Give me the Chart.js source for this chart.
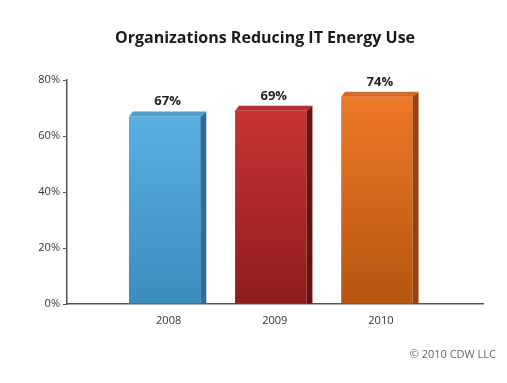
<!DOCTYPE html>
<html lang="en">
<head>
    <meta charset="UTF-8">
    <title>Organizations Reducing IT Energy Use</title>
    <script src="https://cdn.jsdelivr.net/npm/chart.js"></script>
    <style>
        html, body { margin: 0; padding: 0; background: #fff; }
        #wrap { width: 507px; height: 383px; }
    </style>
</head>
<body>
<div id="wrap"><canvas id="energyChart" width="507" height="383"></canvas></div>
<script>
    // data
    const years = ['2008', '2009', '2010'];
    const yearPos = [1, 2, 3];
    const shares = [67, 69, 74];
    const topColors = ['#5db6e8', '#d23636', '#f27b2a'];
    const bottomColors = ['#3b8dbd', '#8f1d1d', '#b6560f'];
    const sideColors = ['#2f6e94', '#6b1111', '#94440c'];

    const FONT = '"Open Sans", "DejaVu Sans", sans-serif';

    // front face gets a vertical gradient
    function frontFill(context) {
        const chart = context.chart;
        const area = chart.chartArea;
        if (!area) return topColors[context.dataIndex];
        const g = chart.ctx.createLinearGradient(0, area.top, 0, area.bottom);
        g.addColorStop(0, topColors[context.dataIndex]);
        g.addColorStop(1, bottomColors[context.dataIndex]);
        return g;
    }

    // draws the top/side faces, value labels, title and footer
    const extras = {
        id: 'extras',
        afterDatasetsDraw(chart) {
            const ctx = chart.ctx;
            const meta = chart.getDatasetMeta(0);
            const dx = 6, dy = 5;
            meta.data.forEach(function(bar, i) {
                const left = bar.x - bar.width / 2;
                const right = bar.x + bar.width / 2;
                const top = bar.y;
                const base = bar.base;
                ctx.save();
                // side
                ctx.fillStyle = sideColors[i];
                ctx.beginPath();
                ctx.moveTo(right, top);
                ctx.lineTo(right + dx, top - dy);
                ctx.lineTo(right + dx, base);
                ctx.lineTo(right, base);
                ctx.closePath();
                ctx.fill();
                // top
                ctx.fillStyle = topColors[i];
                ctx.beginPath();
                ctx.moveTo(left, top);
                ctx.lineTo(left + dx / 2 + 1, top - dy);
                ctx.lineTo(right + dx, top - dy);
                ctx.lineTo(right, top);
                ctx.closePath();
                ctx.fill();
                ctx.fillStyle = 'rgba(0,0,0,0.12)';
                ctx.fill();
                // value label
                ctx.fillStyle = '#222';
                ctx.font = 'bold 13px ' + FONT;
                ctx.textAlign = 'center';
                ctx.textBaseline = 'middle';
                ctx.fillText(shares[i] + '%', bar.x + 3, top - 15);
                ctx.restore();
            });
        },
        afterDraw(chart) {
            const ctx = chart.ctx;
            ctx.save();
            ctx.fillStyle = '#1a1a1a';
            ctx.font = 'bold 16px ' + FONT;
            ctx.textAlign = 'center';
            ctx.textBaseline = 'middle';
            ctx.fillText('Organizations Reducing IT Energy Use', 265, 38);
            ctx.fillStyle = '#666';
            ctx.font = '11px ' + FONT;
            ctx.textAlign = 'right';
            ctx.fillText('\u00a9 2010 CDW LLC', 496, 355);
            ctx.restore();
        }
    };

    const ctx = document.getElementById('energyChart').getContext('2d');

    const chart = new Chart(ctx, {
        type: 'bar',
        data: {
            datasets: [{
                data: yearPos.map(function(x, i) { return { x: x, y: shares[i] }; }),
                backgroundColor: frontFill,
                borderWidth: 0,
                barPercentage: 0.82,
                categoryPercentage: 0.82
            }]
        },
        options: {
            responsive: false,
            animation: false,
            layout: { padding: { top: 80, right: 24, left: 0, bottom: 0 } },
            plugins: {
                legend: { display: false },
                tooltip: { enabled: false },
                title: { display: false }
            },
            scales: {
                x: {
                    type: 'linear',
                    min: 0.08,
                    max: 4,
                    offset: false,
                    afterBuildTicks: function(scale) {
                        scale.ticks = yearPos.map(function(v) { return { value: v }; });
                    },
                    ticks: {
                        padding: 10,
                        labelOffset: 4,
                        color: '#333',
                        font: { family: FONT, size: 11 },
                        callback: function(v) {
                            const k = yearPos.indexOf(v);
                            return k >= 0 ? years[k] : '';
                        }
                    },
                    grid: { display: true, drawOnChartArea: false, drawTicks: false },
                    border: { color: '#555', width: 1.5 },
                    afterFit: function(scale) { scale.height = 79; }
                },
                y: {
                    min: 0,
                    max: 80,
                    ticks: {
                        stepSize: 20,
                        padding: 3,
                        color: '#333',
                        font: { family: FONT, size: 11 },
                        callback: function(v) { return v + '%'; }
                    },
                    grid: { drawOnChartArea: false, drawTicks: true, tickLength: 4, color: '#555' },
                    border: { color: '#555', width: 1.5 },
                    afterFit: function(scale) { scale.width = 67; }
                }
            }
        },
        plugins: [extras]
    });
</script>
</body>
</html>
